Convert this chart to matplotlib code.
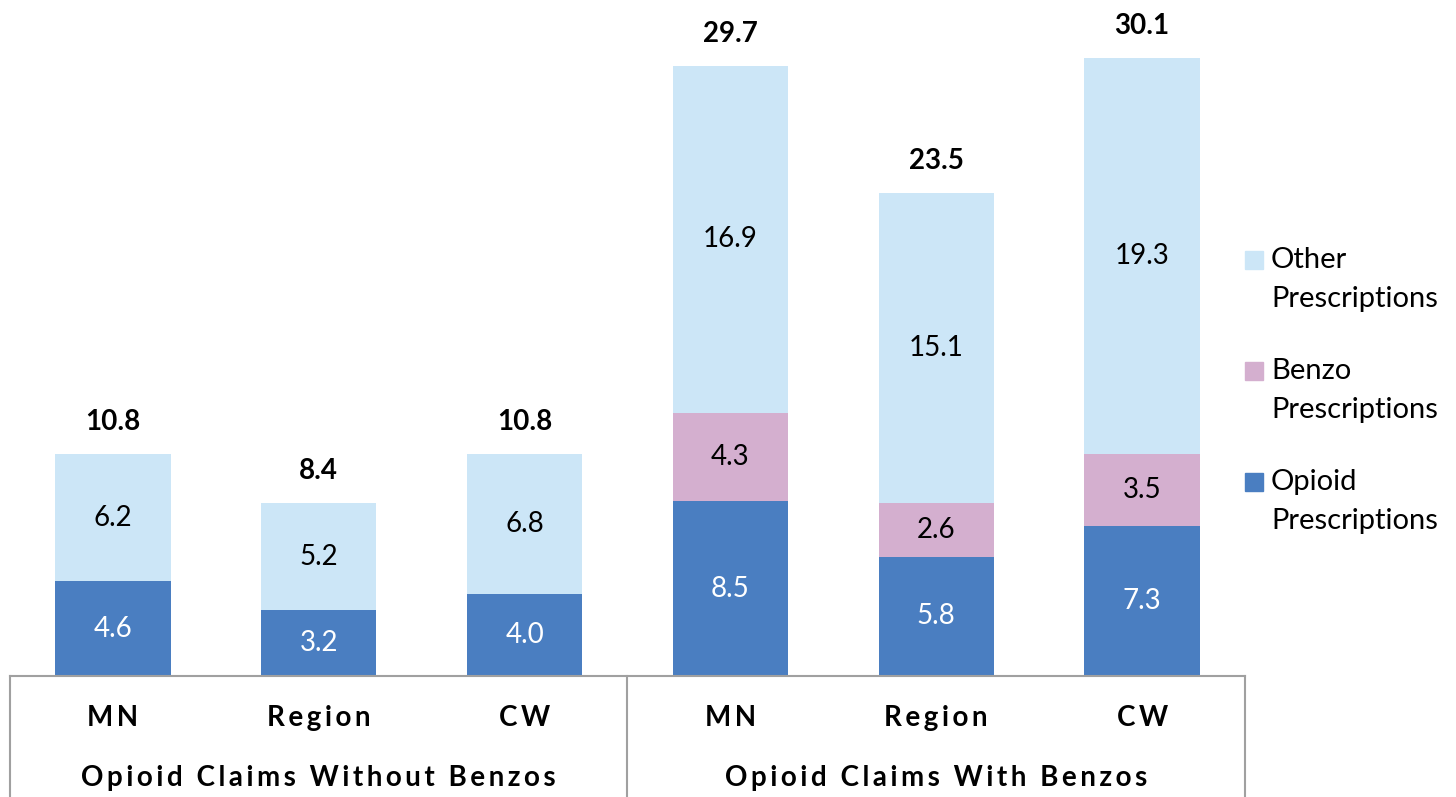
import numpy as np
import matplotlib.pyplot as plt
from matplotlib.patches import Rectangle

# data
categories = ["MN", "Region", "CW", "MN", "Region", "CW"]
groups = ["Opioid Claims Without Benzos", "Opioid Claims With Benzos"]
opioid = [4.6, 3.2, 4.0, 8.5, 5.8, 7.3]
benzo = [0, 0, 0, 4.3, 2.6, 3.5]
other = [6.2, 5.2, 6.8, 16.9, 15.1, 19.3]
totals = [10.8, 8.4, 10.8, 29.7, 23.5, 30.1]

c_opioid = "#4a7ec1"
c_benzo = "#d4afcf"
c_other = "#cce6f7"
grid_col = "#a0a0a0"
fam = ["Lato", "DejaVu Sans"]


def spaced(s):
    # rough letter spacing, matplotlib has no tracking option
    return "\u2009".join(s)


fig = plt.figure(figsize=(14.56, 7.97), dpi=100)
ax = fig.add_axes([10 / 1456, 121 / 797, 1235 / 1456, 676 / 797])

x = np.arange(len(categories))
w = 0.56
ax.bar(x, opioid, w, color=c_opioid)
ax.bar(x, benzo, w, bottom=opioid, color=c_benzo)
bottom2 = np.array(opioid) + np.array(benzo)
ax.bar(x, other, w, bottom=bottom2, color=c_other)

ax.set_xlim(-0.5, 5.5)
ax.set_ylim(0, 32.9)
ax.axis("off")

# segment labels
for i in range(len(x)):
    ax.text(x[i], opioid[i] / 2, f"{opioid[i]:.1f}", ha="center", va="center",
            color="white", fontsize=20, family=fam)
    if benzo[i] > 0:
        ax.text(x[i], opioid[i] + benzo[i] / 2, f"{benzo[i]:.1f}", ha="center",
                va="center", color="black", fontsize=20, family=fam)
    ax.text(x[i], bottom2[i] + other[i] / 2, f"{other[i]:.1f}", ha="center",
            va="center", color="black", fontsize=20, family=fam)
    ax.annotate(f"{totals[i]:.1f}", (x[i], bottom2[i] + other[i]),
                xytext=(0, 23), textcoords="offset points", ha="center",
                va="center", fontsize=20, fontweight="bold", family=fam)

# category table below the axis
ax.plot([-0.5, 5.5], [0, 0], color=grid_col, lw=1.5, clip_on=False)
for xv in [-0.5, 2.5, 5.5]:
    ax.plot([xv, xv], [0, -6.5], color=grid_col, lw=1.5, clip_on=False)

trans = ax.get_xaxis_transform()
for i, c in enumerate(categories):
    ax.text(x[i], -0.062, spaced(c), transform=trans, ha="center", va="center",
            fontsize=20, fontweight="bold", family=fam)
for j, g in enumerate(groups):
    ax.text(1 + 3 * j, -0.151, spaced(g), transform=trans, ha="center",
            va="center", fontsize=20, fontweight="bold", family=fam)

# legend drawn by hand so the square sits on the first line
leg = [("Other", c_other, 260), ("Benzo", c_benzo, 371), ("Opioid", c_opioid, 482)]
for name, col, ypx in leg:
    fig.patches.append(Rectangle((1245 / 1456, (797 - ypx - 9) / 797), 18 / 1456,
                                 18 / 797, transform=fig.transFigure,
                                 color=col, figure=fig))
    fig.text(1271 / 1456, (797 - ypx) / 797, name, ha="left", va="center",
             fontsize=21, family=fam)
    fig.text(1271 / 1456, (797 - ypx - 39) / 797, "Prescriptions", ha="left",
             va="center", fontsize=21, family=fam)

fig.savefig("out.png", dpi=100)
